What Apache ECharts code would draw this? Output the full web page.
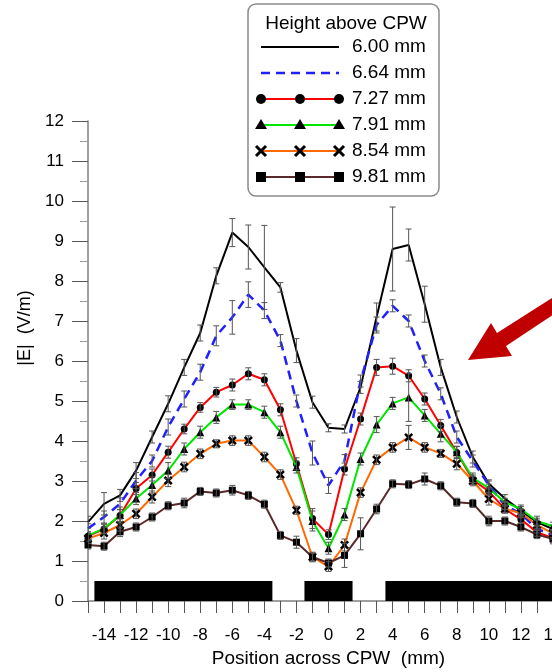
<!DOCTYPE html>
<html>
<head>
<meta charset="utf-8">
<script src="https://cdn.jsdelivr.net/npm/echarts@6/dist/echarts.min.js"></script>
<style>
  html, body { margin: 0; padding: 0; background: #fff; }
  #chart { width: 552px; height: 672px; }
</style>
</head>
<body>
<div id="chart"></div>
<script>
  // positions across the CPW (mm)
  const posMm = [-15, -14, -13, -12, -11, -10, -9, -8, -7, -6, -5, -4, -3, -2, -1,
    0, 1, 2, 3, 4, 5, 6, 7, 8, 9, 10, 11, 12, 13, 14];

  // |E| (V/m) for each height above the CPW
  const e600 = [1.97, 2.43, 2.64, 3.26, 4.1, 4.93, 5.84, 6.7, 8.13, 9.21, 8.85, 8.34, 7.84, 6.26, 4.97,
    4.33, 4.3, 5.34, 7.1, 8.8, 8.9, 7.42, 5.84, 4.6, 3.6, 2.93, 2.56, 2.26, 1.97, 1.8];
  const e664 = [1.81, 2.1, 2.43, 3.01, 3.5, 4.35, 5.05, 5.72, 6.63, 7.09, 7.66, 7.26, 6.51, 5.0, 3.7,
    2.89, 3.51, 5.5, 6.9, 7.38, 7.0, 6.0, 5.18, 4.1, 3.5, 2.9, 2.39, 2.18, 1.8, 1.65];
  const e727 = [1.62, 1.8, 2.14, 2.81, 3.15, 3.72, 4.3, 4.84, 5.22, 5.4, 5.68, 5.53, 4.78, 3.43, 2.06,
    1.66, 3.3, 4.55, 5.84, 5.87, 5.63, 5.05, 4.39, 3.71, 3.03, 2.74, 2.3, 2.04, 1.72, 1.57];
  const e791 = [1.64, 1.81, 2.15, 2.56, 2.9, 3.26, 3.8, 4.22, 4.59, 4.91, 4.91, 4.72, 4.22, 3.35, 2.0,
    1.32, 2.16, 3.55, 4.41, 4.94, 5.09, 4.64, 4.18, 3.72, 3.08, 2.82, 2.47, 2.3, 2.0, 1.87];
  const e854 = [1.56, 1.7, 1.9, 2.18, 2.6, 3.01, 3.35, 3.68, 3.93, 4.01, 4.01, 3.6, 3.16, 2.27, 1.1,
    0.86, 1.4, 2.71, 3.53, 3.84, 4.09, 3.84, 3.69, 3.43, 3.0, 2.55, 2.3, 2.2, 1.9, 1.69];
  const e981 = [1.4, 1.37, 1.73, 1.85, 2.1, 2.38, 2.45, 2.74, 2.7, 2.77, 2.64, 2.42, 1.64, 1.47, 1.1,
    0.95, 1.14, 1.68, 2.3, 2.93, 2.91, 3.05, 2.88, 2.47, 2.44, 2.0, 2.0, 1.85, 1.66, 1.55];

  // error bar half-lengths
  const err600 = [0.15, 0.28, 0.15, 0.2, 0.15, 0.2, 0.2, 0.2, 0.2, 0.35, 0.55, 1.05, 0.12, 0.3, 0.15,
    0.1, 0.1, 0.15, 0.35, 1.05, 0.4, 0.45, 0.2, 0.15, 0.15, 0.1, 0.1, 0.1, 0.1, 0.1];
  const err664 = [0.12, 0.15, 0.15, 0.2, 0.15, 0.2, 0.2, 0.2, 0.25, 0.42, 0.32, 0.2, 0.15, 0.15, 0.3,
    0.2, 0.15, 0.15, 0.2, 0.15, 0.15, 0.15, 0.15, 0.15, 0.15, 0.1, 0.1, 0.1, 0.1, 0.1];
  const err727 = [0.1, 0.12, 0.15, 0.15, 0.15, 0.15, 0.12, 0.12, 0.12, 0.15, 0.15, 0.15, 0.15, 0.15, 0.25,
    0.12, 0.15, 0.15, 0.2, 0.2, 0.15, 0.15, 0.15, 0.15, 0.12, 0.1, 0.1, 0.1, 0.1, 0.1];
  const err791 = [0.1, 0.12, 0.2, 0.15, 0.2, 0.2, 0.15, 0.15, 0.15, 0.12, 0.12, 0.15, 0.15, 0.15, 0.25,
    0.15, 0.15, 0.15, 0.2, 0.15, 0.6, 0.15, 0.2, 0.15, 0.12, 0.1, 0.1, 0.1, 0.12, 0.1];
  const err854 = [0.12, 0.15, 0.15, 0.12, 0.15, 0.15, 0.12, 0.12, 0.1, 0.12, 0.12, 0.12, 0.12, 0.1, 0.12,
    0.12, 0.15, 0.12, 0.12, 0.12, 0.3, 0.12, 0.1, 0.15, 0.12, 0.15, 0.1, 0.1, 0.12, 0.1];
  const err981 = [0.1, 0.1, 0.12, 0.1, 0.1, 0.1, 0.12, 0.1, 0.1, 0.12, 0.1, 0.1, 0.1, 0.15, 0.1,
    0.1, 0.3, 0.4, 0.12, 0.1, 0.1, 0.15, 0.1, 0.1, 0.1, 0.12, 0.1, 0.1, 0.1, 0.12];

  // CPW conductors drawn under the curves: [from mm, to mm]
  const conductors = [[-14.6, -3.5], [-1.5, 1.5], [3.55, 15]];
  const conductorHeight = 0.5;

  const heightNames = ['6.00 mm', '6.64 mm', '7.27 mm', '7.91 mm', '8.54 mm', '9.81 mm'];

  const crossPath = 'path://M2,0 L5,3 L8,0 L10,2 L7,5 L10,8 L8,10 L5,7 L2,10 L0,8 L3,5 L0,2 Z';

  const styles = [
    { line: '#000000', width: 2, type: 'solid', symbol: 'none' },
    { line: '#1f1fff', width: 2.5, type: [9, 6], symbol: 'none' },
    { line: '#ff0000', width: 2, type: 'solid', symbol: 'circle', size: 7 },
    { line: '#00e600', width: 2, type: 'solid', symbol: 'triangle', size: 8 },
    { line: '#ff6a00', width: 2, type: 'solid', symbol: crossPath, size: 9 },
    { line: '#5a2a2a', width: 2, type: 'solid', symbol: 'rect', size: 7 }
  ];

  const values = [e600, e664, e727, e791, e854, e981];
  const errors = [err600, err664, err727, err791, err854, err981];

  function renderErr(params, api) {
    let x = api.value(0);
    let top = api.coord([x, api.value(2)]);
    let bot = api.coord([x, api.value(1)]);
    let w = 3;
    let st = { stroke: '#555', lineWidth: 1 };
    return {
      type: 'group',
      children: [
        { type: 'line', shape: { x1: top[0], y1: top[1], x2: bot[0], y2: bot[1] }, style: st },
        { type: 'line', shape: { x1: top[0] - w, y1: top[1], x2: top[0] + w, y2: top[1] }, style: st },
        { type: 'line', shape: { x1: bot[0] - w, y1: bot[1], x2: bot[0] + w, y2: bot[1] }, style: st }
      ]
    };
  }

  function renderBar(params, api) {
    let a = api.coord([api.value(0), conductorHeight]);
    let b = api.coord([api.value(1), 0]);
    return {
      type: 'rect',
      shape: { x: a[0], y: a[1], width: b[0] - a[0], height: b[1] - a[1] },
      style: { fill: '#000' }
    };
  }

  let series = [{
    type: 'custom',
    renderItem: renderBar,
    clip: true,
    silent: true,
    z: 1,
    data: conductors
  }];

  values.forEach(function (vals, k) {
    let s = styles[k];
    series.push({
      name: heightNames[k],
      type: 'line',
      data: posMm.map(function (x, i) { return [x, vals[i]]; }),
      symbol: s.symbol,
      symbolSize: s.size || 0,
      showSymbol: s.symbol !== 'none',
      itemStyle: { color: '#000' },
      lineStyle: { color: s.line, width: s.width, type: s.type },
      z: 3 + k,
      animation: false
    });
    series.push({
      type: 'custom',
      renderItem: renderErr,
      silent: true,
      clip: true,
      z: 10,
      data: posMm.map(function (x, i) { return [x, vals[i] - errors[k][i], vals[i] + errors[k][i]]; })
    });
  });

  // hand-drawn legend box (three markers per row like the original)
  let legendEls = [{
    type: 'rect',
    shape: { x: 248, y: 4, width: 191, height: 192, r: 8 },
    style: { fill: '#fff', stroke: '#8a8a8a', lineWidth: 1.5 },
    z: 100
  }, {
    type: 'text',
    x: 346, y: 24,
    style: { text: 'Height above CPW', fill: '#000', font: '19px "Liberation Sans", Arial, sans-serif', align: 'center', verticalAlign: 'middle' },
    z: 101
  }];
  heightNames.forEach(function (name, k) {
    let s = styles[k];
    let y = 47 + k * 26;
    legendEls.push({
      type: 'line',
      shape: { x1: 261, y1: y, x2: 339, y2: y },
      style: { stroke: s.line, lineWidth: s.width, lineDash: k === 1 ? [9, 6] : null },
      z: 101
    });
    [261, 300, 339].forEach(function (cx) {
      if (s.symbol === 'circle') {
        legendEls.push({ type: 'circle', shape: { cx: cx, cy: y, r: 5 }, style: { fill: '#000' }, z: 102 });
      } else if (s.symbol === 'triangle') {
        legendEls.push({ type: 'polygon', shape: { points: [[cx, y - 6], [cx + 6, y + 4], [cx - 6, y + 4]] }, style: { fill: '#000' }, z: 102 });
      } else if (s.symbol === 'rect') {
        legendEls.push({ type: 'rect', shape: { x: cx - 5, y: y - 5, width: 10, height: 10 }, style: { fill: '#000' }, z: 102 });
      } else if (s.symbol !== 'none') {
        legendEls.push({ type: 'line', shape: { x1: cx - 5, y1: y - 5, x2: cx + 5, y2: y + 5 }, style: { stroke: '#000', lineWidth: 3 }, z: 102 });
        legendEls.push({ type: 'line', shape: { x1: cx - 5, y1: y + 5, x2: cx + 5, y2: y - 5 }, style: { stroke: '#000', lineWidth: 3 }, z: 102 });
      }
    });
    legendEls.push({
      type: 'text',
      x: 352, y: y,
      style: { text: name, fill: '#000', font: '19px "Liberation Sans", Arial, sans-serif', verticalAlign: 'middle' },
      z: 101
    });
  });

  // red arrow pointing at the curves
  legendEls.push({
    type: 'polygon',
    shape: { points: [[468, 360], [491, 323], [497, 333], [580, 280], [580, 297], [506, 346], [512, 356]] },
    style: { fill: '#c00000' },
    z: 50
  });

  // y axis title
  legendEls.push({
    type: 'text',
    x: 25, y: 328,
    rotation: Math.PI / 2,
    style: { text: '|E|  (V/m)', fill: '#000', font: '18px "Liberation Sans", Arial, sans-serif', align: 'center', verticalAlign: 'middle' },
    z: 101
  });

  let chart = echarts.init(document.getElementById('chart'), null, { renderer: 'canvas' });
  chart.setOption({
    animation: false,
    backgroundColor: '#fff',
    grid: { left: 88, top: 121, right: -17, bottom: 71, containLabel: false, outerBoundsMode: 'none' },
    xAxis: {
      type: 'value',
      min: -15,
      max: 15,
      interval: 1,
      name: 'Position across CPW  (mm)',
      nameLocation: 'middle',
      nameGap: 46,
      nameTextStyle: { fontSize: 19, color: '#000', fontFamily: 'Liberation Sans' },
      axisLine: { onZero: false, lineStyle: { color: '#808080', width: 1.5 } },
      axisTick: { length: 12, lineStyle: { color: '#555' } },
      axisLabel: {
        margin: 26,
        fontSize: 17,
        color: '#000',
        fontFamily: 'Liberation Sans',
        formatter: function (v) { return v % 2 === 0 ? String(v) : ''; }
      },
      splitLine: { show: false }
    },
    yAxis: {
      type: 'value',
      min: 0,
      max: 12,
      interval: 1,
      axisLine: { show: true, onZero: false, lineStyle: { color: '#808080', width: 1.5 } },
      axisTick: { show: true, length: 16, lineStyle: { color: '#555' } },
      minorTick: { show: true, splitNumber: 2, length: 8, lineStyle: { color: '#999' } },
      axisLabel: { margin: 24, fontSize: 17, color: '#000', fontFamily: 'Liberation Sans' },
      splitLine: { show: false }
    },
    graphic: legendEls,
    series: series
  });
</script>
</body>
</html>
